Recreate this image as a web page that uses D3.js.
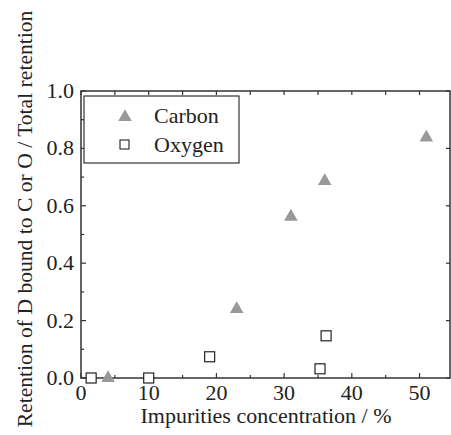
<!DOCTYPE html>
<html>
<head>
<meta charset="utf-8">
<script src="https://cdn.jsdelivr.net/npm/d3@7"></script>
</head>
<body style="margin:0">
<script>
const width = 451;
const height = 435;

// data
const carbonX = [4, 23, 31, 36, 51];
const carbonY = [0.0, 0.24, 0.562, 0.686, 0.838];
const oxygenX = [1.5, 10, 19, 35.3, 36.2];
const oxygenY = [0.0, 0.0, 0.074, 0.032, 0.147];
const xTicks = [0, 10, 20, 30, 40, 50];
const yTicks = [0.0, 0.2, 0.4, 0.6, 0.8, 1.0];
const legendNames = ['Carbon', 'Oxygen'];

const margin = {left: 81, right: 1, top: 91, bottom: 57};

let x = d3.scaleLinear()
    .domain([0, 54.5])
    .range([margin.left, width - margin.right]);

let y = d3.scaleLinear()
    .domain([0, 1])
    .range([height - margin.bottom, margin.top]);

let svg = d3.select('body').append('svg')
    .attr('width', width)
    .attr('height', height);

const axisColor = '#333';
const textColor = '#222';

function label(sel) {
    return sel
        .attr('font-family', '"Liberation Serif", serif')
        .style('font-size', '22px')
        .attr('fill', textColor);
}

// frame
svg.append('rect')
    .attr('x', x(0))
    .attr('y', y(1))
    .attr('width', x(54.5) - x(0))
    .attr('height', y(0) - y(1))
    .attr('fill', 'none')
    .attr('stroke', axisColor)
    .attr('stroke-width', 1.5);

// ticks, all pointing inward
let ticks = svg.append('g').attr('stroke', axisColor).attr('stroke-width', 1.2);

d3.range(0, 55, 5).forEach(function (v) {
    let len = v % 10 === 0 ? 5 : 3;
    ticks.append('line')
        .attr('x1', x(v)).attr('x2', x(v))
        .attr('y1', y(0)).attr('y2', y(0) - len);
    ticks.append('line')
        .attr('x1', x(v)).attr('x2', x(v))
        .attr('y1', y(1)).attr('y2', y(1) + 4);
});

d3.range(0, 11).forEach(function (i) {
    let v = i / 10;
    let len = i % 2 === 0 ? 5 : 3;
    ticks.append('line')
        .attr('x1', x(0)).attr('x2', x(0) + len)
        .attr('y1', y(v)).attr('y2', y(v));
    if (i % 2 === 0) {
        ticks.append('line')
            .attr('x1', x(54.5)).attr('x2', x(54.5) - 4)
            .attr('y1', y(v)).attr('y2', y(v));
    }
});

// tick labels
svg.append('g').selectAll('text')
    .data(xTicks).enter()
    .append('text')
    .attr('x', d => x(d))
    .attr('y', y(0) + 22)
    .attr('text-anchor', 'middle')
    .call(label)
    .text(d => d);

svg.append('g').selectAll('text')
    .data(yTicks).enter()
    .append('text')
    .attr('x', x(0) - 7)
    .attr('y', d => y(d) + 7)
    .attr('text-anchor', 'end')
    .call(label)
    .text(d => d.toFixed(1));

// axis titles
svg.append('text')
    .attr('x', 266)
    .attr('y', 423)
    .attr('text-anchor', 'middle')
    .call(label)
    .text('Impurities concentration / %');

svg.append('text')
    .attr('transform', 'translate(32,219) rotate(-90)')
    .attr('text-anchor', 'middle')
    .call(label)
    .style('font-size', '21.6px')
    .text('Retention of D bound to C or O / Total retention');

// markers
let tri = d3.symbol().type(d3.symbolTriangle).size(80);
let carbon = carbonX.map((v, i) => [v, carbonY[i]]);
let oxygen = oxygenX.map((v, i) => [v, oxygenY[i]]);

svg.append('g').selectAll('path')
    .data(carbon).enter()
    .append('path')
    .attr('d', tri)
    .attr('transform', d => `translate(${x(d[0])},${y(d[1])})`)
    .attr('fill', '#999');

svg.append('g').selectAll('rect')
    .data(oxygen).enter()
    .append('rect')
    .attr('x', d => x(d[0]) - 5)
    .attr('y', d => y(d[1]) - 5)
    .attr('width', 10)
    .attr('height', 10)
    .attr('fill', '#fff')
    .attr('stroke', '#222')
    .attr('stroke-width', 1.2);

// legend
let legend = svg.append('g');
legend.append('rect')
    .attr('x', 84).attr('y', 96)
    .attr('width', 155).attr('height', 67)
    .attr('fill', '#fff')
    .attr('stroke', axisColor)
    .attr('stroke-width', 1.2);

legend.append('path')
    .attr('d', tri)
    .attr('transform', 'translate(125,117)')
    .attr('fill', '#999');
legend.append('rect')
    .attr('x', 120).attr('y', 140)
    .attr('width', 9).attr('height', 9)
    .attr('fill', '#fff')
    .attr('stroke', '#222')
    .attr('stroke-width', 1.1);

legend.selectAll('text')
    .data(legendNames).enter()
    .append('text')
    .attr('x', 154)
    .attr('y', (d, i) => 123 + i * 29)
    .call(label)
    .text(d => d);
</script>
</body>
</html>
